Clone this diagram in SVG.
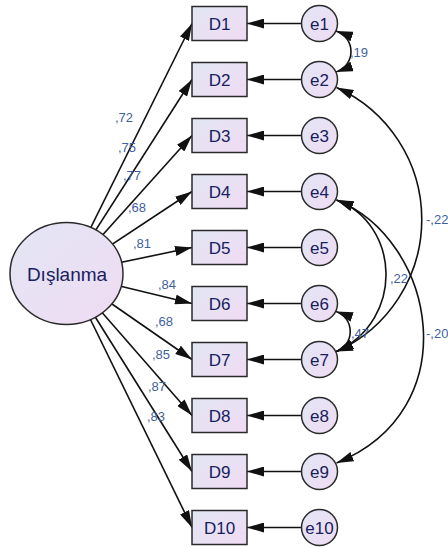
<svg xmlns="http://www.w3.org/2000/svg" width="448" height="548" viewBox="0 0 448 548">
<defs>
<linearGradient id="nf" x1="0" y1="0" x2="1" y2="1">
<stop offset="0" stop-color="#e2e6f4"/>
<stop offset="1" stop-color="#f0dbf3"/>
</linearGradient>
<marker id="ah" viewBox="0 0 17 10" refX="17" refY="5" markerWidth="17" markerHeight="10" markerUnits="userSpaceOnUse" orient="auto-start-reverse">
<path d="M0,0 L17,5 L0,10 Z" fill="#111"/>
</marker>
<style>
.c{fill:none;stroke:#111;stroke-width:1.6}
.a{marker-end:url(#ah)}
.b{marker-start:url(#ah);marker-end:url(#ah)}
.box{fill:url(#nf);stroke:#2a2a2a;stroke-width:1.5}
.ell{fill:url(#nf);stroke:#2a2a2a;stroke-width:1.5}
.t{font-family:"Liberation Sans",Arial,sans-serif;font-size:17px;fill:#18205e;text-anchor:middle}
.big{font-size:19px}
.l{font-family:"Liberation Sans",Arial,sans-serif;font-size:13px;fill:#3f5f9f}
</style>
</defs>
<g id="connectors">
<line class="c a" x1="68" y1="273.5" x2="192" y2="23.5"/>
<line class="c a" x1="68" y1="273.5" x2="192" y2="79.5"/>
<line class="c a" x1="68" y1="273.5" x2="192" y2="135.5"/>
<line class="c a" x1="68" y1="273.5" x2="192" y2="191.5"/>
<line class="c a" x1="68" y1="273.5" x2="192" y2="247.5"/>
<line class="c a" x1="68" y1="273.5" x2="192" y2="303.5"/>
<line class="c a" x1="68" y1="273.5" x2="192" y2="359.5"/>
<line class="c a" x1="68" y1="273.5" x2="192" y2="415.5"/>
<line class="c a" x1="68" y1="273.5" x2="192" y2="471.5"/>
<line class="c a" x1="68" y1="273.5" x2="192" y2="527.5"/>
<line class="c a" x1="319.5" y1="23.5" x2="247" y2="23.5"/>
<line class="c a" x1="319.5" y1="79.5" x2="247" y2="79.5"/>
<line class="c a" x1="319.5" y1="135.5" x2="247" y2="135.5"/>
<line class="c a" x1="319.5" y1="191.5" x2="247" y2="191.5"/>
<line class="c a" x1="319.5" y1="247.5" x2="247" y2="247.5"/>
<line class="c a" x1="319.5" y1="303.5" x2="247" y2="303.5"/>
<line class="c a" x1="319.5" y1="359.5" x2="247" y2="359.5"/>
<line class="c a" x1="319.5" y1="415.5" x2="247" y2="415.5"/>
<line class="c a" x1="319.5" y1="471.5" x2="247" y2="471.5"/>
<line class="c a" x1="319.5" y1="527.5" x2="247" y2="527.5"/>
<path class="c b" d="M336,31 C356,38 356,65 336,72"/>
<path class="c b" d="M336.5,87.5 A144.8,144.8 0 0 1 336.5,351.5"/>
<path class="c b" d="M336.5,200 C400,224 405,320 336.5,351.5"/>
<path class="c b" d="M336.5,200 C436,240 468,410 336.5,463"/>
<path class="c b" d="M336,311.5 C355,318 355,345 336,351.5"/>
</g>
<g id="labels">
<text class="l" x="115" y="121.5">,72</text>
<text class="l" x="118" y="151.5">,75</text>
<text class="l" x="123" y="180">,77</text>
<text class="l" x="128" y="212">,68</text>
<text class="l" x="133" y="248">,81</text>
<text class="l" x="158" y="289">,84</text>
<text class="l" x="155" y="325.5">,68</text>
<text class="l" x="152" y="359">,85</text>
<text class="l" x="148" y="390.5">,87</text>
<text class="l" x="147" y="420.5">,83</text>
<text class="l" x="350" y="56.5">,19</text>
<text class="l" x="351" y="338">,47</text>
<text class="l" x="426" y="224">-,22</text>
<text class="l" x="390" y="283">,22</text>
<text class="l" x="426" y="337.5">-,20</text>
</g>
<g id="Dislanma"><ellipse class="ell" cx="66.5" cy="273.5" rx="56.5" ry="51"/><text class="t big" x="67" y="281">Dışlanma</text></g>
<g id="D1"><rect class="box" x="192" y="6.5" width="55" height="34"/><text class="t" x="219.5" y="29.5">D1</text></g>
<g id="D2"><rect class="box" x="192" y="62.5" width="55" height="34"/><text class="t" x="219.5" y="85.5">D2</text></g>
<g id="D3"><rect class="box" x="192" y="118.5" width="55" height="34"/><text class="t" x="219.5" y="141.5">D3</text></g>
<g id="D4"><rect class="box" x="192" y="174.5" width="55" height="34"/><text class="t" x="219.5" y="197.5">D4</text></g>
<g id="D5"><rect class="box" x="192" y="230.5" width="55" height="34"/><text class="t" x="219.5" y="253.5">D5</text></g>
<g id="D6"><rect class="box" x="192" y="286.5" width="55" height="34"/><text class="t" x="219.5" y="309.5">D6</text></g>
<g id="D7"><rect class="box" x="192" y="342.5" width="55" height="34"/><text class="t" x="219.5" y="365.5">D7</text></g>
<g id="D8"><rect class="box" x="192" y="398.5" width="55" height="34"/><text class="t" x="219.5" y="421.5">D8</text></g>
<g id="D9"><rect class="box" x="192" y="454.5" width="55" height="34"/><text class="t" x="219.5" y="477.5">D9</text></g>
<g id="D10"><rect class="box" x="192" y="510.5" width="55" height="34"/><text class="t" x="219.5" y="533.5">D10</text></g>
<g id="e1"><circle class="ell" cx="319.5" cy="23.5" r="18"/><text class="t" x="319.5" y="29.5">e1</text></g>
<g id="e2"><circle class="ell" cx="319.5" cy="79.5" r="18"/><text class="t" x="319.5" y="85.5">e2</text></g>
<g id="e3"><circle class="ell" cx="319.5" cy="135.5" r="18"/><text class="t" x="319.5" y="141.5">e3</text></g>
<g id="e4"><circle class="ell" cx="319.5" cy="191.5" r="18"/><text class="t" x="319.5" y="197.5">e4</text></g>
<g id="e5"><circle class="ell" cx="319.5" cy="247.5" r="18"/><text class="t" x="319.5" y="253.5">e5</text></g>
<g id="e6"><circle class="ell" cx="319.5" cy="303.5" r="18"/><text class="t" x="319.5" y="309.5">e6</text></g>
<g id="e7"><circle class="ell" cx="319.5" cy="359.5" r="18"/><text class="t" x="319.5" y="365.5">e7</text></g>
<g id="e8"><circle class="ell" cx="319.5" cy="415.5" r="18"/><text class="t" x="319.5" y="421.5">e8</text></g>
<g id="e9"><circle class="ell" cx="319.5" cy="471.5" r="18"/><text class="t" x="319.5" y="477.5">e9</text></g>
<g id="e10"><circle class="ell" cx="319.5" cy="527.5" r="18"/><text class="t" x="319.5" y="533.5">e10</text></g>
</svg>
